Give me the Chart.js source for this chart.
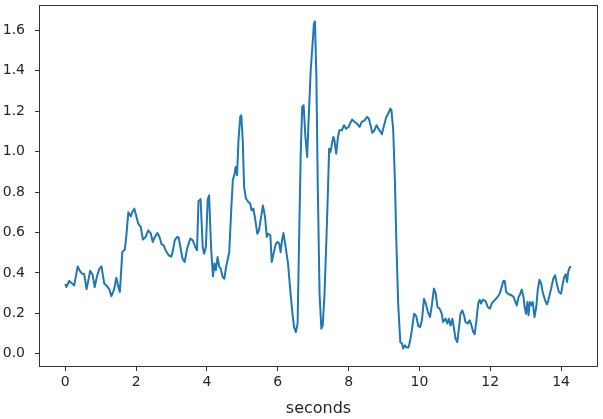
<!DOCTYPE html>
<html>
<head>
<meta charset="utf-8">
<script src="https://cdn.jsdelivr.net/npm/chart.js@4"></script>
<style>
  body { margin: 0; background: #fff; }
</style>
</head>
<body>
<canvas id="signalChart" width="603" height="419"></canvas>
<script>
// time axis (seconds) and the measured signal
const seconds = [
  0.00, 0.03, 0.11, 0.19, 0.25, 0.35, 0.41, 0.47, 0.53, 0.60,
  0.65, 0.70, 0.77, 0.83, 0.89, 0.96, 1.02, 1.10, 1.16, 1.24,
  1.30, 1.38, 1.44, 1.50, 1.54, 1.61, 1.68, 1.72, 1.78, 1.85,
  1.89, 1.95, 2.01, 2.06, 2.13, 2.19, 2.27, 2.34, 2.41, 2.47,
  2.53, 2.60, 2.66, 2.72, 2.78, 2.83, 2.92, 2.99, 3.03, 3.09,
  3.16, 3.20, 3.25, 3.31, 3.37, 3.44, 3.53, 3.60, 3.67, 3.72,
  3.76, 3.82, 3.88, 3.92, 3.97, 4.02, 4.06, 4.12, 4.17, 4.21,
  4.25, 4.30, 4.35, 4.39, 4.44, 4.49, 4.54, 4.59, 4.63, 4.68,
  4.73, 4.78, 4.81, 4.85, 4.89, 4.94, 4.97, 5.01, 5.05, 5.10,
  5.17, 5.22, 5.26, 5.31, 5.36, 5.42, 5.47, 5.53, 5.58, 5.64,
  5.69, 5.73, 5.79, 5.83, 5.88, 5.94, 5.99, 6.04, 6.08, 6.12,
  6.16, 6.22, 6.29, 6.36, 6.42, 6.46, 6.51, 6.56, 6.60, 6.65,
  6.69, 6.73, 6.78, 6.83, 6.87, 6.93, 6.99, 7.02, 7.05, 7.09,
  7.13, 7.18, 7.23, 7.27, 7.32, 7.37, 7.42, 7.45, 7.49, 7.53,
  7.57, 7.60, 7.65, 7.70, 7.74, 7.81, 7.87, 7.93, 8.00, 8.04,
  8.10, 8.17, 8.24, 8.31, 8.37, 8.45, 8.52, 8.57, 8.62, 8.67,
  8.73, 8.79, 8.84, 8.90, 8.94, 8.99, 9.06, 9.12, 9.18, 9.21,
  9.26, 9.31, 9.35, 9.40, 9.46, 9.51, 9.54, 9.59, 9.64, 9.69,
  9.74, 9.79, 9.85, 9.91, 9.97, 10.02, 10.07, 10.13, 10.18, 10.24,
  10.30, 10.35, 10.41, 10.46, 10.51, 10.57, 10.63, 10.67, 10.74, 10.79,
  10.83, 10.88, 10.93, 10.97, 11.02, 11.07, 11.12, 11.16, 11.21, 11.26,
  11.30, 11.36, 11.42, 11.47, 11.52, 11.56, 11.61, 11.66, 11.70, 11.74,
  11.79, 11.87, 11.93, 11.99, 12.05, 12.12, 12.19, 12.26, 12.31, 12.37,
  12.41, 12.45, 12.52, 12.60, 12.66, 12.71, 12.75, 12.80, 12.85, 12.89,
  12.94, 12.97, 13.01, 13.05, 13.08, 13.12, 13.17, 13.20, 13.25, 13.30,
  13.34, 13.39, 13.44, 13.48, 13.55, 13.60, 13.64, 13.72, 13.78, 13.83,
  13.89, 13.94, 14.00, 14.05, 14.09, 14.13, 14.17, 14.20, 14.24, 14.28
];

const amplitude = [
  0.345, 0.330, 0.360, 0.347, 0.338, 0.432, 0.410, 0.396, 0.396, 0.320,
  0.363, 0.410, 0.390, 0.330, 0.380, 0.420, 0.432, 0.347, 0.338, 0.320,
  0.284, 0.320, 0.376, 0.330, 0.305, 0.503, 0.515, 0.578, 0.700, 0.680,
  0.700, 0.718, 0.677, 0.644, 0.627, 0.565, 0.578, 0.610, 0.597, 0.553,
  0.578, 0.597, 0.578, 0.541, 0.536, 0.512, 0.487, 0.480, 0.503, 0.561,
  0.578, 0.575, 0.528, 0.470, 0.454, 0.520, 0.570, 0.561, 0.528, 0.512,
  0.755, 0.765, 0.528, 0.495, 0.528, 0.760, 0.784, 0.512, 0.383, 0.446,
  0.413, 0.478, 0.429, 0.421, 0.380, 0.371, 0.429, 0.470, 0.503, 0.693,
  0.858, 0.891, 0.924, 0.883, 1.056, 1.172, 1.180, 1.056, 0.825, 0.768,
  0.751, 0.743, 0.710, 0.718, 0.669, 0.594, 0.611, 0.677, 0.734, 0.677,
  0.578, 0.594, 0.586, 0.454, 0.495, 0.541, 0.553, 0.545, 0.503, 0.561,
  0.597, 0.530, 0.446, 0.300, 0.190, 0.132, 0.107, 0.149, 0.545, 1.007,
  1.221, 1.230, 1.073, 0.974, 1.155, 1.403, 1.552, 1.634, 1.645, 1.370,
  0.825, 0.297, 0.124, 0.140, 0.297, 0.545, 0.825, 1.015, 0.999, 1.040,
  1.073, 1.056, 0.990, 1.073, 1.106, 1.106, 1.131, 1.114, 1.122, 1.139,
  1.159, 1.147, 1.139, 1.122, 1.147, 1.155, 1.172, 1.164, 1.131, 1.093,
  1.106, 1.131, 1.114, 1.098, 1.086, 1.122, 1.169, 1.189, 1.213, 1.205,
  1.106, 0.842, 0.545, 0.248, 0.057, 0.050, 0.025, 0.041, 0.030, 0.030,
  0.066, 0.120, 0.198, 0.186, 0.136, 0.132, 0.165, 0.272, 0.248, 0.206,
  0.181, 0.239, 0.322, 0.297, 0.231, 0.223, 0.198, 0.157, 0.173, 0.149,
  0.173, 0.140, 0.173, 0.132, 0.074, 0.057, 0.132, 0.198, 0.214, 0.190,
  0.157, 0.149, 0.165, 0.140, 0.107, 0.096, 0.165, 0.248, 0.267, 0.248,
  0.267, 0.260, 0.231, 0.223, 0.251, 0.264, 0.277, 0.294, 0.322, 0.360,
  0.360, 0.305, 0.294, 0.289, 0.280, 0.256, 0.239, 0.280, 0.297, 0.317,
  0.280, 0.231, 0.198, 0.256, 0.190, 0.256, 0.239, 0.256, 0.181, 0.231,
  0.313, 0.366, 0.347, 0.305, 0.264, 0.244, 0.264, 0.322, 0.371, 0.388,
  0.338, 0.305, 0.297, 0.347, 0.380, 0.393, 0.355, 0.404, 0.426, 0.432
];

const xTicks = [0, 2, 4, 6, 8, 10, 12, 14];
const yTicks = [0.0, 0.2, 0.4, 0.6, 0.8, 1.0, 1.2, 1.4, 1.6];

const axisColor = '#333333';
const textColor = '#262626';
const tickFont = { family: 'DejaVu Sans', size: 14 };

// matplotlib style frame round the plot area
const framePlugin = {
    id: 'frame',
    afterDraw(chart) {
        const { ctx, chartArea } = chart;
        ctx.save();
        ctx.strokeStyle = axisColor;
        ctx.lineWidth = 1;
        ctx.strokeRect(Math.round(chartArea.left) - 0.5, Math.round(chartArea.top) + 0.5,
            Math.round(chartArea.right - chartArea.left) + 1, Math.round(chartArea.bottom - chartArea.top));
        ctx.restore();
    }
};

const ctx = document.getElementById('signalChart').getContext('2d');

const signalChart = new Chart(ctx, {
    type: 'line',
    data: {
        datasets: [{
            label: 'signal',
            data: seconds.map((t, i) => ({ x: t, y: amplitude[i] })),
            borderColor: '#1f77b4',
            borderWidth: 2,
            borderJoinStyle: 'round',
            pointRadius: 0,
            tension: 0,
            fill: false
        }]
    },
    options: {
        responsive: false,
        animation: false,
        events: [],
        layout: { padding: { top: 5, right: 6, left: 0, bottom: 0 } },
        plugins: {
            legend: { display: false },
            tooltip: { enabled: false }
        },
        scales: {
            x: {
                type: 'linear',
                min: -0.715,
                max: 15.015,
                afterBuildTicks: scale => { scale.ticks = xTicks.map(v => ({ value: v })); },
                afterFit: scale => {
                    scale.height = 53;
                    scale.paddingLeft = 0;
                    scale.paddingRight = 0;
                },
                grid: { drawOnChartArea: false, tickLength: 5, tickColor: axisColor, tickWidth: 1 },
                border: { display: false },
                ticks: { font: tickFont, color: textColor, padding: 3, maxRotation: 0 },
                title: {
                    display: true,
                    text: 'seconds',
                    font: { family: 'DejaVu Sans', size: 16 },
                    color: textColor,
                    padding: { top: 0, bottom: 0.5 }
                }
            },
            y: {
                min: -0.061,
                max: 1.726,
                afterBuildTicks: scale => { scale.ticks = yTicks.map(v => ({ value: v })); },
                afterFit: scale => {
                    scale.width = 40;
                    scale.paddingTop = 0;
                    scale.paddingBottom = 0;
                },
                grid: { drawOnChartArea: false, tickLength: 5, tickColor: axisColor, tickWidth: 1 },
                border: { display: false },
                ticks: {
                    font: tickFont,
                    color: textColor,
                    padding: 10,
                    callback: value => value.toFixed(1)
                }
            }
        }
    },
    plugins: [framePlugin]
});
</script>
</body>
</html>
